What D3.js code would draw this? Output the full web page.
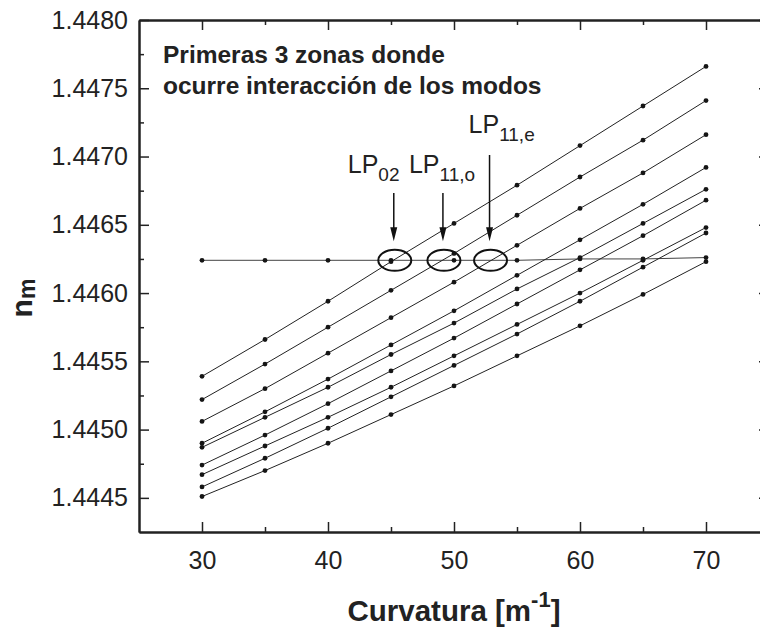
<!DOCTYPE html>
<html>
<head>
<meta charset="utf-8">
<script src="https://cdn.jsdelivr.net/npm/d3@7"></script>
<style>
  body { margin: 0; background: #fff; }
  svg { display: block; font-family: "Liberation Sans", Arial, sans-serif; }
  .tick text { font-size: 25px; fill: #222; }
</style>
</head>
<body>
<div id="chart"></div>
<script>
////////////////////////////  Data  ////////////////////////////

const curvatura = [30, 35, 40, 45, 50, 55, 60, 65, 70];

// modo casi constante (linea horizontal)
const nHoriz = [1.44624, 1.44624, 1.44624, 1.44624, 1.44624, 1.44624, 1.44625, 1.44625, 1.44626];

// modos que suben con la curvatura, de arriba hacia abajo
const n1 = [1.44539, 1.44566, 1.44594, 1.44623, 1.44651, 1.44679, 1.44708, 1.44737, 1.44766];
const n2 = [1.44522, 1.44548, 1.44575, 1.44602, 1.44629, 1.44657, 1.44685, 1.44712, 1.44741];
const n3 = [1.44506, 1.44530, 1.44556, 1.44582, 1.44608, 1.44635, 1.44662, 1.44688, 1.44716];
const n4 = [1.44490, 1.44513, 1.44537, 1.44562, 1.44587, 1.44613, 1.44639, 1.44665, 1.44692];
const n5 = [1.44487, 1.44509, 1.44531, 1.44555, 1.44578, 1.44603, 1.44626, 1.44651, 1.44676];
const n6 = [1.44474, 1.44496, 1.44519, 1.44543, 1.44567, 1.44592, 1.44617, 1.44642, 1.44668];
const n7 = [1.44467, 1.44488, 1.44509, 1.44531, 1.44554, 1.44577, 1.44600, 1.44624, 1.44648];
const n8 = [1.44458, 1.44479, 1.44501, 1.44524, 1.44547, 1.44570, 1.44594, 1.44619, 1.44644];
const n9 = [1.44451, 1.44470, 1.44490, 1.44511, 1.44532, 1.44554, 1.44576, 1.44599, 1.44623];

// ticks
const xMajor = [30, 40, 50, 60, 70];
const xMinor = [35, 45, 55, 65];
const yMajor = [1.4445, 1.4450, 1.4455, 1.4460, 1.4465, 1.4470, 1.4475, 1.4480];
const yMinor = [1.44475, 1.44525, 1.44575, 1.44625, 1.44675, 1.44725, 1.44775];

// zonas de interaccion
const zonasX = [45.3, 49.2, 52.9];
const zonasN = [1.44624, 1.44624, 1.44624];
const zonasSub = ["02", "11,o", "11,e"];

////////////////////////////  Init  ////////////////////////////

const width = 760;
const height = 629;

const svg = d3.select("#chart").append("svg")
  .attr("width", width)
  .attr("height", height);

const x = d3.scaleLinear().domain([25, 75]).range([139, 769]);
const y = d3.scaleLinear().domain([1.44425, 1.4480]).range([532, 20]);

const fmt = d3.format(".4f");

// axes (ticks hacia adentro)
function drawAxis(axis, tr) {
  const g = svg.append("g").attr("transform", tr).call(axis);
  g.select(".domain").attr("stroke", "#222").attr("stroke-width", 2);
  g.selectAll(".tick line").attr("stroke", "#222").attr("stroke-width", 1.5);
  return g;
}

// bottom
drawAxis(d3.axisBottom(x).tickValues(xMajor).tickSize(-10).tickSizeOuter(0).tickPadding(13).tickFormat(d3.format("d")),
  `translate(0,${y.range()[0]})`)
  .selectAll(".tick text").attr("dy", "0.95em");
drawAxis(d3.axisBottom(x).tickValues(xMinor).tickSize(-5).tickSizeOuter(0).tickFormat(""),
  `translate(0,${y.range()[0]})`);
// top
drawAxis(d3.axisTop(x).tickValues(xMajor).tickSize(-10).tickSizeOuter(0).tickFormat(""),
  `translate(0,${y.range()[1]})`);
drawAxis(d3.axisTop(x).tickValues(xMinor).tickSize(-5).tickSizeOuter(0).tickFormat(""),
  `translate(0,${y.range()[1]})`);
// left
drawAxis(d3.axisLeft(y).tickValues(yMajor).tickSize(-10).tickSizeOuter(0).tickPadding(11).tickFormat(fmt),
  `translate(${x.range()[0]},0)`);
drawAxis(d3.axisLeft(y).tickValues(yMinor).tickSize(-5).tickSizeOuter(0).tickFormat(""),
  `translate(${x.range()[0]},0)`);
// right (queda fuera del cuadro, solo se ven las puntas)
drawAxis(d3.axisRight(y).tickValues(yMajor).tickSize(-10).tickSizeOuter(0).tickFormat(""),
  `translate(${x.range()[1]},0)`);
drawAxis(d3.axisRight(y).tickValues(yMinor).tickSize(-5).tickSizeOuter(0).tickFormat(""),
  `translate(${x.range()[1]},0)`);

////////////////////////////  Lines  ////////////////////////////

const series = [nHoriz, n1, n2, n3, n4, n5, n6, n7, n8, n9];

const line = d3.line()
  .x((d, i) => x(curvatura[i]))
  .y((d) => y(d));

svg.append("g")
  .selectAll("path")
  .data(series)
  .join("path")
  .attr("d", (d) => line(d))
  .attr("fill", "none")
  .attr("stroke", (d, i) => (i === 0 ? "#444" : "#222"))
  .attr("stroke-width", 1);

svg.append("g")
  .selectAll("g")
  .data(series)
  .join("g")
  .selectAll("circle")
  .data((d) => d)
  .join("circle")
  .attr("cx", (d, i) => x(curvatura[i]))
  .attr("cy", (d) => y(d))
  .attr("r", 2.4)
  .attr("fill", "#151515");

////////////////////////////  Annotations  ////////////////////////////

const ann = svg.append("g");

// elipses
ann.selectAll("ellipse")
  .data(zonasX)
  .join("ellipse")
  .attr("cx", (d) => x(d))
  .attr("cy", (d, i) => y(zonasN[i]))
  .attr("rx", 16.5)
  .attr("ry", 10.5)
  .attr("fill", "none")
  .attr("stroke", "#111")
  .attr("stroke-width", 2);

// flechas
const arrowTop = [193, 193, 155];
const labelBase = [173, 173, 133];
const labelDx = [-46, -34, -21];

zonasX.forEach((z, i) => {
  const ax = x(z) - 1;
  const tip = y(zonasN[i]) - 19;
  ann.append("line")
    .attr("x1", ax).attr("x2", ax)
    .attr("y1", arrowTop[i]).attr("y2", tip - 10)
    .attr("stroke", "#111").attr("stroke-width", 1.5);
  ann.append("path")
    .attr("d", `M${ax - 3.5},${tip - 14}L${ax + 3.5},${tip - 14}L${ax},${tip}Z`)
    .attr("fill", "#111");

  const t = ann.append("text")
    .attr("x", ax + labelDx[i])
    .attr("y", labelBase[i])
    .attr("font-size", 25)
    .attr("fill", "#222");
  t.append("tspan").text("LP");
  t.append("tspan").attr("font-size", 19).attr("dy", 8).text(zonasSub[i]);
});

// titulo interno
const titulo = svg.append("text")
  .attr("x", 163)
  .attr("y", 63)
  .attr("font-size", 24.5)
  .attr("font-weight", "bold")
  .attr("fill", "#222");
titulo.append("tspan").attr("x", 163).text("Primeras 3 zonas donde");
titulo.append("tspan").attr("x", 163).attr("dy", 31).text("ocurre interacción de los modos");

// etiqueta eje x
const xl = svg.append("text")
  .attr("x", 454)
  .attr("y", 621)
  .attr("text-anchor", "middle")
  .attr("font-size", 29.5)
  .attr("font-weight", "bold")
  .attr("fill", "#222");
xl.append("tspan").text("Curvatura [m");
xl.append("tspan").attr("font-size", 22).attr("dy", -14).text("-1");
xl.append("tspan").attr("dy", 14).text("]");

// etiqueta eje y
const yl = svg.append("text")
  .attr("transform", "translate(32,298) rotate(-90)")
  .attr("text-anchor", "middle")
  .attr("font-size", 30)
  .attr("font-weight", "bold")
  .attr("fill", "#222");
yl.append("tspan").text("n");
yl.append("tspan").attr("font-size", 23).attr("dy", 3).text("m");
</script>
</body>
</html>
